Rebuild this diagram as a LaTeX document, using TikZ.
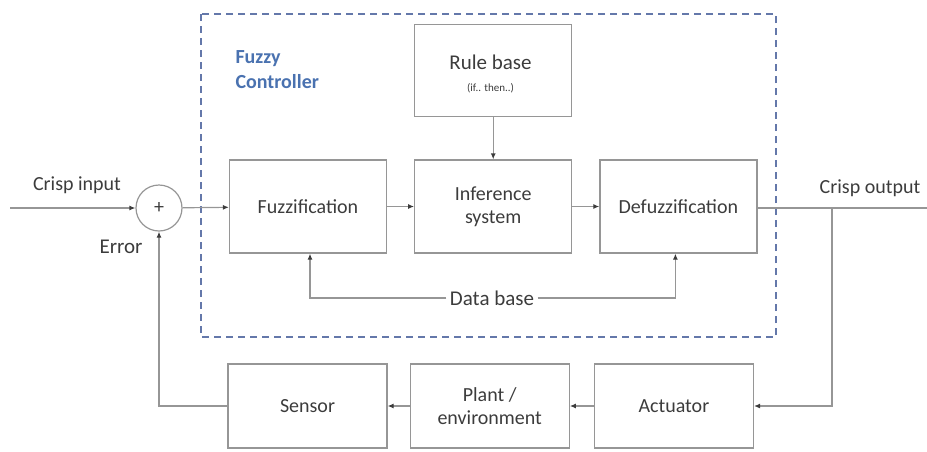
\documentclass[tikz,border=0pt]{standalone}
\usepackage{fontspec}
\setmainfont{Carlito}
\usepackage{tikz}
\usetikzlibrary{arrows.meta}
\usetikzlibrary{positioning}
\definecolor{linegray}{RGB}{150,150,150}
\definecolor{txtgray}{RGB}{60,60,60}
\definecolor{ctrlblue}{RGB}{74,114,176}
\definecolor{dashblue}{RGB}{100,120,170}

\begin{document}
\begin{tikzpicture}[x=1pt,y=-1pt,node distance=27pt,
  every node/.style={text=txtgray,font=\fontsize{20}{23}\selectfont},
  blockbox/.style={draw=linegray,line width=1.2pt,minimum width=157pt,minimum height=93pt,align=center},
  lowbox/.style={blockbox,minimum width=159pt,minimum height=84pt},
  wire/.style={draw=linegray,line width=1.2pt},
  arr/.style={wire,-{Latex[length=6pt,width=5pt,color=txtgray]}}]
  \useasboundingbox (0,0) rectangle (927,451);
  \draw[dashblue,line width=1.6pt,dash pattern=on 7pt off 5pt] (201,14) rectangle (776,337);
  \node[anchor=west,align=left,text=ctrlblue,font=\fontsize{20}{25}\selectfont\bfseries] (title) at (232,70) {Fuzzy\\Controller};

  \node[blockbox] (fuzz) at (308,206.5) {Fuzzification};
  \node[blockbox,right=of fuzz] (infer) {Inference\\system};
  \node[blockbox,right=of infer] (defuzz) {Defuzzification};
  \node[blockbox,above=42pt of infer,minimum height=92pt] (rules) {};
  \node (rulestxt) at (490.5,62) {\fontsize{21}{24}\selectfont Rule base};
  \node (ifthen) at (490.5,88) {\fontsize{11}{12}\selectfont (if.. then..)};
  \node[draw=linegray,line width=1.2pt,circle,minimum size=46pt,inner sep=0pt] (sum) at (159,208) {+};
  \node (databa) at (492,298) {\fontsize{21}{24}\selectfont Data base};

  \node[lowbox] (sensor) at (307.5,406) {Sensor};
  \node[lowbox,right=22pt of sensor] (plant) {Plant /\\environment};
  \node[lowbox,right=24pt of plant] (actuator) {Actuator};

  \coordinate (in) at (10,208);
  \coordinate (out) at (927,208);
  \coordinate (tap) at (832,208);
  \node (inlabel) at (77,185) {Crisp input};
  \node (outlabel) at (870,188) {Crisp output};
  \node (errlabel) at (121,247) {\fontsize{21}{24}\selectfont Error};

  \draw[arr] (in) -- (sum);
  \draw[arr] (sum) -- (fuzz);
  \draw[arr] (fuzz) -- (infer);
  \draw[arr] (infer) -- (defuzz);
  \draw[arr] (rules) -- (infer);
  \draw[wire] (defuzz.east |- out) -- (out);
  \draw[arr] (tap) |- (actuator);
  \draw[arr] (actuator) -- (plant);
  \draw[arr] (plant) -- (sensor);
  \draw[arr] (sensor.west) -| (sum.south);
  \draw[arr] (databa.west) -| ([xshift=2pt]fuzz.south);
  \draw[arr] (databa.east) -| ([xshift=-3pt]defuzz.south);
\end{tikzpicture}
\end{document}
